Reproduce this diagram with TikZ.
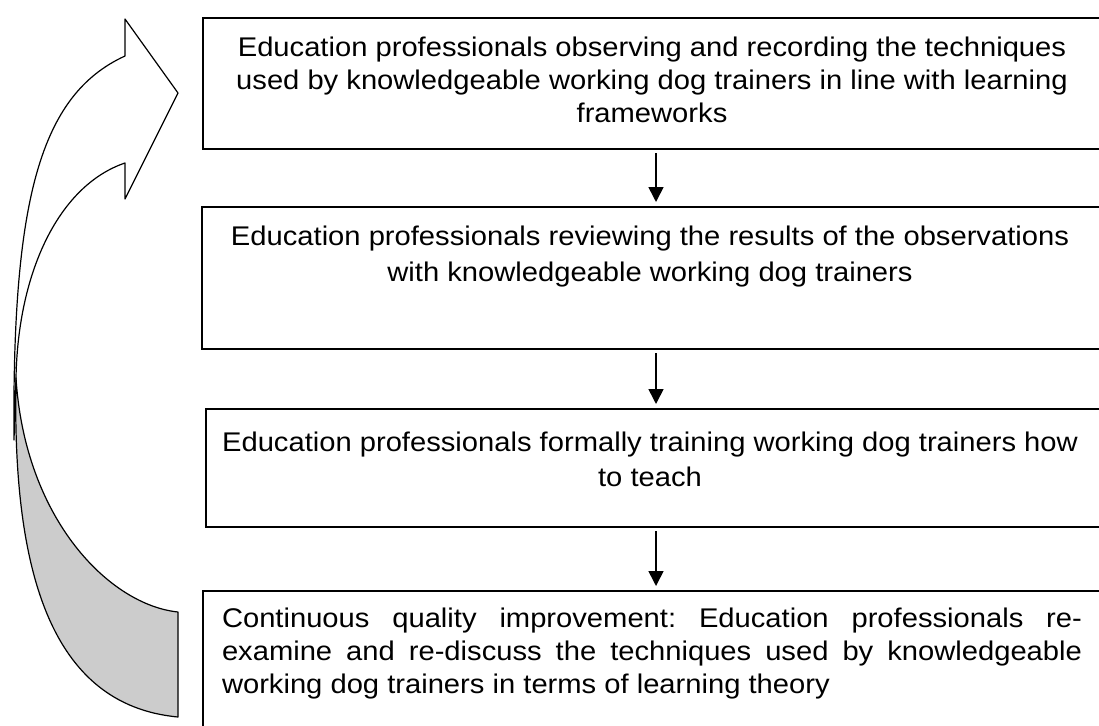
\documentclass[tikz,border=0pt]{standalone}
\usepackage{fontspec}
\setmainfont{Liberation Sans}[FakeStretch=1.08]
\usetikzlibrary{arrows.meta}
\begin{document}
\begin{tikzpicture}[x=1pt,y=-1pt,
  boxframe/.style={draw=black, line width=1.6pt, inner sep=0pt, outer sep=0pt, anchor=north west, minimum width=900pt},
  boxtext/.style={inner sep=0pt, outer sep=0pt, text=black},
  flowarrow/.style={line width=1.6pt, -{Triangle[width=15pt,length=15pt]}, shorten <=4pt, shorten >=5pt},
  bandshape/.style={draw=black, line width=1.2pt, line join=round}]
\useasboundingbox (0,0) rectangle (1099,725);

% curved return arrow
\path[bandshape, fill=white] (14,440) .. controls (12,200) and (40,95) .. (125,56) -- (125,19) -- (178,93) -- (125,199) -- (125,163) .. controls (60,185) and (18,270) .. (16,378) -- cycle;
\path[bandshape, fill=black!20] (16,378) .. controls (12,570) and (50,705) .. (178,717) -- (178,612) .. controls (110,605) and (25,520) .. (16,378) -- cycle;

% boxes
\node[boxframe, minimum height=131pt] (b1) at (203,18) {};
\node[boxframe, minimum height=142pt] (b2) at (202,207) {};
\node[boxframe, minimum height=118pt] (b3) at (206,409) {};
\node[boxframe, minimum height=144pt] (b4) at (203,591) {};

% texts
\node[boxtext, align=center, anchor=north, font=\fontsize{27}{33}\selectfont] (t1) at (652,37)
  {Education professionals observing and recording the techniques\\used by knowledgeable working dog trainers in line with learning\\frameworks};
\node[boxtext, align=center, anchor=north, font=\fontsize{27}{36}\selectfont] (t2) at (650,226)
  {Education professionals reviewing the results of the observations\\with knowledgeable working dog trainers};
\node[boxtext, align=center, anchor=north, font=\fontsize{27}{35}\selectfont] (t3) at (650,432)
  {Education professionals formally training working dog trainers how\\to teach};
\node[boxtext, text width=860pt, align=justify, anchor=north west, font=\fontsize{27}{33}\selectfont] (t4) at (222,608)
  {\frenchspacing\tolerance=10000\hbadness=10000 Continuous quality improvement: Education professionals re-\linebreak examine and re-discuss the techniques used by knowledgeable\linebreak working dog trainers in terms of learning theory};

% connectors
\coordinate (ax) at (656,0);
\draw[flowarrow] (b1.south -| ax) -- (b2.north -| ax);
\draw[flowarrow] (b2.south -| ax) -- (b3.north -| ax);
\draw[flowarrow] (b3.south -| ax) -- (b4.north -| ax);
\end{tikzpicture}
\end{document}
